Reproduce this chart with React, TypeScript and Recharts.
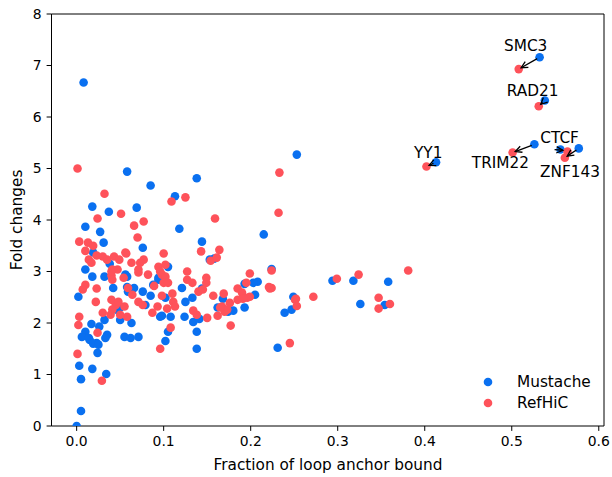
import { ScatterChart, Scatter, XAxis, YAxis, ReferenceDot, ReferenceLine, Legend } from 'recharts';

const FONT = '"DejaVu Sans", sans-serif';
const BLUE = '#0a70f0';
const RED = '#fe525a';

// [fraction of loop anchor bound, fold change]
const mustache: [number, number][] = [
  [0.008, 6.67], [0.0, 0.0], [0.005, 0.29], [0.005, 0.91], [0.003, 1.17], [0.018, 1.11], [0.034, 1.01],
  [0.058, 4.94], [0.085, 4.67], [0.138, 4.81], [0.113, 4.46], [0.018, 4.26], [0.037, 4.16], [0.069, 4.24],
  [0.253, 5.27], [0.215, 3.72], [0.118, 3.83], [0.01, 3.87], [0.027, 3.77], [0.031, 3.56], [0.076, 3.46],
  [0.144, 3.58], [0.158, 3.25], [0.224, 3.05], [0.019, 3.37], [0.01, 3.04], [0.018, 2.9], [0.032, 2.9],
  [0.058, 2.7], [0.002, 2.51], [0.038, 3.15], [0.056, 2.94], [0.046, 2.26], [0.05, 2.06], [0.063, 2.0],
  [0.032, 2.06], [0.017, 1.98], [0.026, 1.93], [0.01, 1.83], [0.006, 1.73], [0.015, 1.67], [0.035, 1.77],
  [0.033, 1.71], [0.055, 1.73], [0.062, 1.71], [0.023, 1.61], [0.024, 1.42], [0.059, 2.61], [0.076, 2.61],
  [0.085, 2.53], [0.088, 2.74], [0.094, 2.84], [0.121, 2.68], [0.133, 2.49], [0.125, 2.41], [0.102, 2.49],
  [0.079, 2.35], [0.098, 2.14], [0.108, 2.12], [0.124, 2.12], [0.134, 2.02], [0.138, 1.83], [0.105, 1.83],
  [0.102, 1.65], [0.071, 1.73], [0.138, 1.5], [0.066, 2.68], [0.105, 3.09], [0.094, 2.88], [0.058, 2.9],
  [0.144, 2.67], [0.193, 2.76], [0.208, 2.8], [0.203, 2.78], [0.205, 2.55], [0.168, 2.47], [0.162, 2.3],
  [0.174, 2.22], [0.18, 2.24], [0.193, 2.3], [0.249, 2.51], [0.247, 2.26], [0.239, 2.2], [0.141, 2.08],
  [0.231, 1.52], [0.294, 2.82], [0.318, 2.82], [0.358, 2.8], [0.326, 2.37], [0.354, 2.35],
  [0.042, 2.68], [0.05, 2.3], [0.014, 1.71], [0.019, 1.6], [0.025, 1.58], [0.096, 2.12], [0.153, 3.23],
  [0.532, 7.16], [0.538, 6.32], [0.526, 5.47], [0.577, 5.39], [0.413, 5.12], [0.556, 5.37],
];

const refhic: [number, number][] = [
  [0.001, 5.0], [0.032, 4.51], [0.109, 4.36], [0.125, 4.44], [0.051, 4.12], [0.024, 4.03], [0.077, 3.97],
  [0.159, 4.03], [0.233, 4.92], [0.232, 4.14], [0.066, 3.89], [0.07, 3.66], [0.003, 3.58], [0.013, 3.56],
  [0.019, 3.5], [0.01, 3.4], [0.023, 3.31], [0.014, 3.23], [0.03, 3.29], [0.035, 3.23], [0.043, 3.29],
  [0.049, 3.23], [0.057, 3.35], [0.063, 3.17], [0.041, 3.04], [0.047, 3.04], [0.04, 2.92], [0.1, 3.35],
  [0.056, 3.37], [0.077, 3.23], [0.073, 3.17], [0.071, 3.04], [0.082, 2.94], [0.094, 3.09], [0.102, 3.13],
  [0.127, 3.0], [0.098, 2.94], [0.143, 3.39], [0.164, 3.42], [0.154, 3.21], [0.224, 3.02], [0.199, 2.96],
  [0.149, 2.88], [0.149, 2.78], [0.195, 2.78], [0.224, 2.68], [0.221, 2.7], [0.14, 2.61], [0.185, 2.67],
  [0.19, 2.59], [0.196, 2.49], [0.199, 2.51], [0.185, 2.45], [0.169, 2.57], [0.157, 2.53], [0.176, 2.39],
  [0.167, 2.32], [0.162, 2.14], [0.17, 2.22], [0.251, 2.45], [0.253, 2.33], [0.272, 2.51], [0.15, 2.1],
  [0.177, 1.95], [0.245, 1.61], [0.299, 2.86], [0.324, 2.94], [0.381, 3.02], [0.347, 2.49], [0.347, 2.28],
  [0.36, 2.37], [0.071, 2.98], [0.096, 3.0], [0.102, 2.9], [0.089, 2.72], [0.1, 2.78], [0.105, 2.78],
  [0.127, 2.84], [0.133, 2.78], [0.059, 2.68], [0.064, 2.55], [0.071, 2.41], [0.076, 2.35], [0.098, 2.53],
  [0.11, 2.57], [0.111, 2.41], [0.113, 2.32], [0.104, 2.28], [0.093, 2.32], [0.087, 2.2], [0.134, 2.24],
  [0.138, 2.16], [0.058, 2.12], [0.108, 1.91], [0.096, 1.5], [0.04, 3.0], [0.041, 2.84], [0.054, 2.88],
  [0.01, 2.74], [0.007, 2.65], [0.023, 2.67], [0.022, 2.41], [0.04, 2.45], [0.045, 2.35], [0.041, 2.26],
  [0.048, 2.41], [0.039, 2.16], [0.05, 2.16], [0.03, 2.2], [0.055, 2.32], [0.003, 2.12], [0.002, 1.96],
  [0.024, 1.81], [0.001, 1.4], [0.029, 0.88], [0.173, 2.26], [0.165, 2.3], [0.191, 2.47], [0.145, 2.65],
  [0.222, 2.67], [0.252, 2.47], [0.161, 3.27], [0.017, 3.17],
  [0.508, 6.93], [0.531, 6.21], [0.501, 5.31], [0.561, 5.21], [0.402, 5.04], [0.564, 5.33],
];

const xTicks = [0, 0.1, 0.2, 0.3, 0.4, 0.5, 0.6];
const yTicks = [0, 1, 2, 3, 4, 5, 6, 7, 8];
const xDomain: [number, number] = [-0.0289, 0.606];
const yDomain: [number, number] = [0, 8];

const proteins = ['SMC3', 'RAD21', 'CTCF', 'TRIM22', 'ZNF143', 'YY1'];
const labelX = [0.516, 0.524, 0.555, 0.487, 0.567, 0.404];
const labelY = [7.38, 6.5, 5.59, 5.1, 4.93, 5.3];
const arrowFrom: [number, number][] = [[0.532, 7.16], [0.538, 6.32], [0.546, 5.37], [0.526, 5.47], [0.577, 5.39], [0.413, 5.12]];
const arrowTo: [number, number][] = [[0.508, 6.93], [0.531, 6.21], [0.562, 5.35], [0.501, 5.31], [0.561, 5.21], [0.402, 5.04]];

const series = [
  { name: 'Mustache', color: BLUE, points: mustache },
  { name: 'RefHiC', color: RED, points: refhic },
];

const Dot = (color: string) => (p: any) => <circle cx={p.cx} cy={p.cy} r={4.3} fill={color} />;

function Arrow(props: any) {
  const { x1, y1, x2, y2 } = props;
  const dx = x2 - x1;
  const dy = y2 - y1;
  const len = Math.hypot(dx, dy) || 1;
  const ux = dx / len;
  const uy = dy / len;
  const sx = x1 + ux * 2.8;
  const sy = y1 + uy * 2.8;
  const ex = x2 - ux * 2.8;
  const ey = y2 - uy * 2.8;
  const bx = ex - ux * 6.5;
  const by = ey - uy * 6.5;
  const hw = 3.2;
  return (
    <g>
      <line x1={sx} y1={sy} x2={ex} y2={ey} stroke="#000" strokeWidth={1.3} />
      <polyline
        points={`${bx - uy * hw},${by + ux * hw} ${ex},${ey} ${bx + uy * hw},${by - ux * hw}`}
        fill="none"
        stroke="#000"
        strokeWidth={1.3}
      />
    </g>
  );
}

function renderLegend() {
  return (
    <div style={{ fontFamily: FONT, fontSize: 15.3, color: '#000' }}>
      {series.map((s) => (
        <div key={s.name} style={{ display: 'flex', alignItems: 'center', height: 21.5 }}>
          <svg width={20} height={12}>
            <circle cx={10} cy={6} r={4.3} fill={s.color} />
          </svg>
          <span style={{ marginLeft: 19 }}>{s.name}</span>
        </div>
      ))}
    </div>
  );
}

export default function App() {
  const tick = { fontSize: 13.9, fill: '#000', fontFamily: FONT };
  return (
    <div style={{ position: 'absolute', left: 0, top: 0, background: '#fff' }}>
      <ScatterChart width={612} height={477} margin={{ top: 14, right: 8, bottom: 0, left: 0 }}>
        <XAxis
          type="number"
          dataKey="x"
          domain={xDomain}
          allowDataOverflow
          ticks={xTicks}
          tickFormatter={(v: number) => v.toFixed(1)}
          tick={tick}
          tickSize={4.9}
          tickMargin={5.5}
          height={51}
          stroke="#000"
          label={{
            content: () => (
              <text x={328} y={470} textAnchor="middle" fontSize={15.3} fontFamily={FONT} fill="#000">
                Fraction of loop anchor bound
              </text>
            ),
          }}
        />
        <YAxis
          type="number"
          dataKey="y"
          domain={yDomain}
          allowDataOverflow
          ticks={yTicks}
          tick={tick}
          tickSize={4.9}
          tickMargin={4.9}
          width={51.5}
          stroke="#000"
          label={{
            content: () => (
              <text
                transform="translate(17,220) rotate(-90)"
                textAnchor="middle"
                dominantBaseline="central"
                fontSize={15.3}
                fontFamily={FONT}
                fill="#000"
              >
                Fold changes
              </text>
            ),
          }}
        />
        {series.map((s) => (
          <Scatter
            key={s.name}
            name={s.name}
            data={s.points.map(([x, y]) => ({ x, y }))}
            fill={s.color}
            shape={Dot(s.color)}
            isAnimationActive={false}
          />
        ))}
        <ReferenceLine y={yDomain[1]} stroke="#000" strokeWidth={1} zIndex={1000} />
        <ReferenceLine x={xDomain[1]} stroke="#000" strokeWidth={1} zIndex={1000} />
        {proteins.map((p, i) => (
          <ReferenceLine
            key={`a-${p}`}
            segment={[
              { x: arrowFrom[i][0], y: arrowFrom[i][1] },
              { x: arrowTo[i][0], y: arrowTo[i][1] },
            ]}
            shape={Arrow}
            zIndex={1000}
          />
        ))}
        {proteins.map((p, i) => (
          <ReferenceDot
            key={`l-${p}`}
            x={labelX[i]}
            y={labelY[i]}
            zIndex={1000}
            shape={(d: any) => (
              <text x={d.cx} y={d.cy} textAnchor="middle" dominantBaseline="central" fontSize={15.3} fontFamily={FONT} fill="#000">
                {p}
              </text>
            )}
          />
        ))}
        <Legend
          layout="vertical"
          align="center"
          verticalAlign="middle"
          wrapperStyle={{ left: 478, top: 371, width: 130 }}
          content={renderLegend}
        />
      </ScatterChart>
    </div>
  );
}
